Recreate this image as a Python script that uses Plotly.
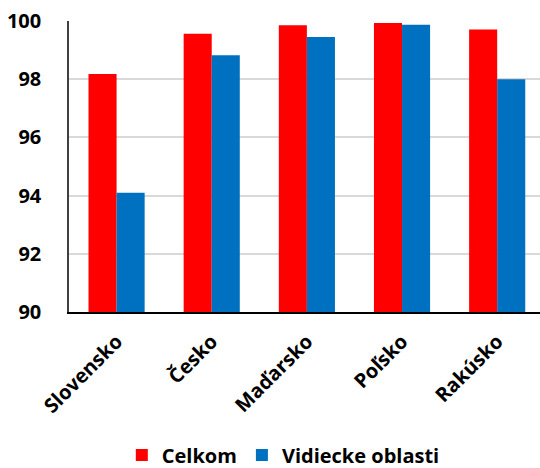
import plotly.graph_objects as go

categories = ["Slovensko", "Česko", "Maďarsko", "Poľsko", "Rakúsko"]
celkom = [98.18, 99.56, 99.85, 99.93, 99.71]
vidiecke = [94.1, 98.82, 99.45, 99.87, 98.0]
series_names = ["Celkom", "Vidiecke oblasti"]
y_ticks = [90, 92, 94, 96, 98, 100]

FONT = "Open Sans"

fig = go.Figure()
fig.add_trace(go.Bar(x=categories, y=celkom, name=series_names[0],
                     marker=dict(color="#FF0000", line=dict(width=0))))
fig.add_trace(go.Bar(x=categories, y=vidiecke, name=series_names[1],
                     marker=dict(color="#0070C0", line=dict(width=0))))

fig.update_layout(
    width=540, height=468,
    margin=dict(l=69, r=0, t=21, b=156, autoexpand=False),
    paper_bgcolor="white", plot_bgcolor="white",
    barmode="group", bargap=0.41, bargroupgap=0,
    font=dict(family=FONT, size=20, color="black"),
    showlegend=True,
    legend=dict(orientation="h", x=0.455, xanchor="center",
                yref="container", y=0.028, yanchor="middle",
                font=dict(family=FONT, size=20, color="black", weight="bold"),
                itemwidth=30, traceorder="normal"),
    xaxis=dict(type="category", range=[-0.5, 4.45], tickangle=-45,
               showline=True, linecolor="black", linewidth=2,
               showgrid=False, ticks="", ticklabelstandoff=8,
               tickfont=dict(family=FONT, size=20, color="black", weight="bold")),
    yaxis=dict(range=[90, 100], tickvals=y_ticks, showgrid=True,
               gridcolor="#d9d9d9", gridwidth=1.5, zeroline=False,
               showline=True, linecolor="#404040", linewidth=1.5,
               ticks="", ticklabelstandoff=22,
               tickfont=dict(family=FONT, size=20, color="black", weight="bold")),
)

fig.write_html("out.html", config={"displayModeBar": False},
               post_script="document.body.style.margin='0';document.body.style.overflow='hidden';")
